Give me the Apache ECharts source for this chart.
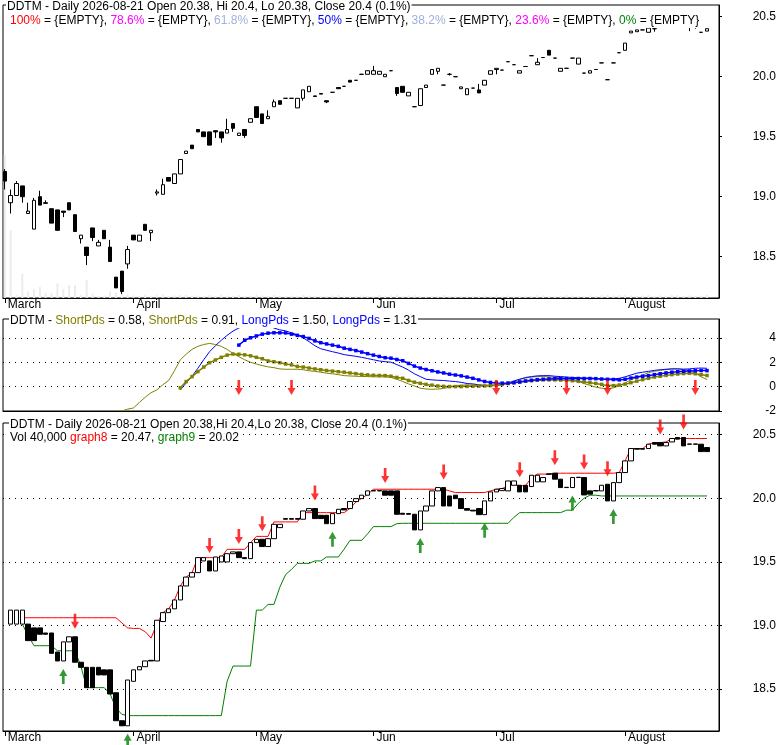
<!DOCTYPE html>
<html><head><meta charset="utf-8">
<script src="https://cdn.jsdelivr.net/npm/echarts@6/dist/echarts.min.js"></script>
<style>html,body{margin:0;padding:0;background:#fff}#c{width:780px;height:745px}</style>
</head><body><div id="c"></div>
<script>
const monthStarts = [0, 22, 43, 63, 84, 106];
const monthNames = ['March', 'April', 'May', 'Jun', 'Jul', 'August'];
const priceTicks = [18.5, 19.0, 19.5, 20.0, 20.5];
const oscTicks = [-2, 0, 2, 4];
const oscGrid = [0, 2, 4];

// top panel daily candles: [open, close, low, high]
const topCandles = [
[19.21,19.13,19.06,19.23],[18.95,19.01,18.86,19.06],[19.01,19.11,19.01,19.13],[19.09,19.00,18.95,19.09],[18.86,18.88,18.86,18.95],
[18.73,18.97,18.73,18.99],[19.00,18.93,18.93,19.05],[18.95,18.945,18.94,18.97],[18.90,18.78,18.78,18.90],[18.89,18.72,18.72,18.89],
[18.88,18.87,18.83,18.88],[18.95,18.89,18.89,18.95],[18.85,18.71,18.71,18.85],[18.65,18.68,18.61,18.68],[18.58,18.51,18.43,18.58],
[18.74,18.66,18.63,18.74],[18.59,18.62,18.59,18.64],[18.72,18.65,18.65,18.72],[18.58,18.46,18.46,18.64],[18.33,18.24,18.24,18.33],
[18.38,18.21,18.19,18.38],[18.44,18.56,18.40,18.59],[18.68,18.64,18.64,18.68],[18.63,18.68,18.63,18.68],[18.77,18.72,18.72,18.77],
[18.70,18.72,18.63,18.72],[19.03,19.04,19.01,19.06],[19.02,19.10,19.02,19.15],[19.16,19.13,19.13,19.16],[19.11,19.19,19.11,19.19],
[19.19,19.31,19.19,19.31],[19.36,19.38,19.36,19.38],[19.43,19.40,19.40,19.43],[19.56,19.54,19.54,19.56],[19.54,19.50,19.50,19.54],
[19.54,19.43,19.43,19.54],[19.55,19.54,19.49,19.55],[19.54,19.49,19.45,19.54],[19.53,19.56,19.53,19.65],[19.61,19.57,19.54,19.61],
[19.51,19.53,19.51,19.53],[19.56,19.51,19.49,19.56],[19.62,19.65,19.62,19.65],[19.75,19.66,19.66,19.75],[19.69,19.61,19.61,19.69],
[19.65,19.67,19.65,19.72],[19.75,19.79,19.75,19.81],[19.80,19.77,19.77,19.80],[19.82,19.82,19.82,19.82],[19.82,19.82,19.82,19.82],
[19.74,19.82,19.74,19.82],[19.82,19.89,19.80,19.89],[19.875,19.92,19.875,19.92],[19.84,19.835,19.835,19.84],[19.86,19.855,19.855,19.86],
[19.80,19.79,19.78,19.80],[19.87,19.87,19.87,19.87],[19.91,19.90,19.90,19.91],[19.92,19.92,19.92,19.92],[19.97,19.955,19.955,19.97],
[19.97,19.97,19.97,19.97],[20.02,20.02,20.02,20.02],[20.02,20.05,20.02,20.05],[20.02,20.05,20.02,20.09],[20.02,20.045,20.02,20.045],
[20.00,20.02,20.00,20.02],[20.05,20.05,20.05,20.05],[19.91,19.86,19.84,19.91],[19.92,19.87,19.87,19.92],[19.84,19.87,19.84,19.87],
[19.75,19.75,19.75,19.75],[19.76,19.90,19.76,19.90],[19.91,19.93,19.91,19.93],[20.02,20.06,20.02,20.06],[20.045,20.07,20.02,20.07],
[19.93,19.93,19.93,19.93],[20.02,20.02,20.01,20.03],[20.00,20.00,20.00,20.00],[19.90,19.915,19.90,19.915],[19.85,19.90,19.85,19.90],
[19.905,19.905,19.905,19.905],[19.89,19.865,19.865,19.94],[19.93,19.97,19.93,19.97],[20.02,20.05,20.02,20.05],[20.06,20.07,20.02,20.07],
[20.055,20.055,20.055,20.055],[20.125,20.125,20.125,20.125],[20.10,20.10,20.10,20.10],[20.03,20.05,20.03,20.05],[20.085,20.085,20.085,20.085],
[20.175,20.175,20.175,20.175],[20.10,20.12,20.10,20.155],[20.16,20.16,20.16,20.16],[20.22,20.18,20.18,20.22],[20.155,20.155,20.155,20.155],
[20.045,20.07,20.045,20.07],[20.07,20.07,20.07,20.07],[20.155,20.155,20.155,20.155],[20.105,20.155,20.105,20.155],[20.03,20.03,20.03,20.03],
[20.03,20.05,20.03,20.05],[20.06,20.06,20.06,20.06],[20.115,20.115,20.115,20.115],[19.975,19.975,19.975,19.975],[20.115,20.115,20.115,20.115],
[20.20,20.20,20.20,20.20],[20.22,20.28,20.22,20.28],[20.365,20.38,20.365,20.38],[20.375,20.39,20.375,20.39],[20.39,20.39,20.39,20.39],
[20.37,20.405,20.37,20.405],[20.40,20.40,20.375,20.405],[20.41,20.43,20.41,20.44],[20.43,20.44,20.42,20.45],[20.44,20.46,20.44,20.47],
[20.46,20.43,20.42,20.47],[20.41,20.41,20.41,20.44],[20.41,20.41,20.38,20.41],[20.41,20.41,20.40,20.41],[20.37,20.37,20.37,20.37],
[20.38,20.40,20.38,20.40]
];

const volume = [
1950000,930000,40000,330000,90000,120000,150000,70000,65000,200000,
120000,175000,175000,40000,245000,60000,30000,35000,90000,75000,
65000,45000,35000,30000,45000,25000,40000,50000,30000,35000,
45000,40000,30000,35000,25000,40000,30000,45000,35000,30000,
40000,25000,30000,45000,35000,30000,40000,30000,25000,35000,
30000,40000,35000,30000,25000,30000,35000,40000,30000,25000,
30000,35000,30000,25000,40000,30000,35000,45000,30000,35000,
40000,30000,25000,35000,30000,40000,30000,25000,30000,35000,
30000,25000,35000,30000,40000,30000,35000,25000,30000,35000,
30000,40000,35000,30000,25000,30000,40000,35000,30000,25000,
35000,30000,40000,45000,35000,40000,45000,35000,30000,35000,
40000,30000,35000,30000,40000,35000,30000,35000,30000,35000,
40000
];

// bottom panel boxes: [open, close]
const boxRows = [
null,[19.01,19.12],[19.01,19.12],[19.01,19.12],[19.01,18.88],[18.98,18.88],[18.98,18.93],[18.94,18.93],[18.94,18.78],[18.79,18.72],
[18.72,18.87],[18.87,18.91],[18.91,18.71],[18.71,18.67],[18.67,18.51],[18.67,18.51],[18.67,18.61],[18.65,18.61],[18.65,18.46],[18.47,18.25],
[18.25,18.21],[18.21,18.57],[18.56,18.65],[18.65,18.675],[18.675,18.72],[18.725,18.72],[18.72,19.04],[19.03,19.10],[19.10,19.13],[19.13,19.20],
[19.20,19.31],[19.31,19.38],[19.38,19.415],[19.415,19.533],[19.507,19.533],[19.507,19.428],[19.428,19.538],[19.499,19.546],[19.499,19.564],[19.564,19.578],
[19.578,19.533],[19.533,19.525],[19.525,19.651],[19.651,19.677],[19.677,19.62],[19.62,19.682],[19.682,19.795],[19.769,19.795],[19.84,19.835],[19.84,19.835],
[19.84,19.835],[19.835,19.90],[19.90,19.919],[19.919,19.84],[19.866,19.84],[19.866,19.80],[19.80,19.879],[19.879,19.913],[19.919,19.908],[19.919,19.974],
[19.974,19.997],[19.997,20.024],[20.024,20.058],[20.06,20.058],[20.06,20.058],[20.058,20.024],[20.058,20.024],[20.058,19.874],[19.882,19.874],[19.88,19.874],
[19.874,19.751],[19.751,19.90],[19.90,19.939],[19.939,20.058],[20.058,20.084],[20.084,19.939],[20.018,19.939],[20.024,19.997],[19.997,19.919],[19.919,19.906],
[19.906,19.90],[19.919,19.871],[19.871,19.979],[19.979,20.05],[20.05,20.071],[20.06,20.076],[20.058,20.136],[20.102,20.136],[20.102,20.05],[20.102,20.05],
[20.092,20.181],[20.129,20.181],[20.129,20.163],[20.192,20.189],[20.197,20.15],[20.15,20.084],[20.086,20.084],[20.084,20.163],[20.165,20.163],[20.163,20.026],
[20.058,20.032],[20.06,20.058],[20.058,20.102],[20.11,19.979],[19.979,20.123],[20.123,20.202],[20.202,20.294],[20.294,20.391],[20.391,20.386],[20.391,20.386],
[20.391,20.425],[20.438,20.425],[20.438,20.412],[20.412,20.438],[20.443,20.47],[20.478,20.465],[20.478,20.412],[20.427,20.425],[20.427,20.425],[20.425,20.367],
[20.399,20.367]
];

const graph8 = [
null,null,null,19.06,19.06,19.06,19.06,19.06,19.06,19.06,
19.06,19.06,19.06,19.06,19.06,19.06,19.06,19.06,19.06,19.06,
19.02,18.98,18.976,18.976,18.95,18.90,19.01,19.10,19.13,19.20,
19.31,19.38,19.415,19.533,19.533,19.533,19.533,19.533,19.598,19.598,
19.598,19.598,19.65,19.70,19.70,19.70,19.814,19.814,19.814,19.814,
19.814,19.887,19.887,19.887,19.887,19.887,19.887,19.887,19.887,19.92,
19.97,20.0,20.03,20.071,20.071,20.071,20.071,20.071,20.071,20.071,
20.071,20.071,20.071,20.071,20.071,20.071,20.058,20.045,20.045,20.045,
20.045,20.045,20.045,20.058,20.071,20.076,20.10,20.11,20.097,20.10,
20.16,20.19,20.19,20.19,20.197,20.197,20.197,20.197,20.197,20.197,
20.197,20.197,20.197,20.197,20.197,20.202,20.294,20.391,20.391,20.391,
20.425,20.438,20.438,20.443,20.47,20.47,20.47,20.47,20.47,20.47,
20.47
];

const graph9 = [
null,null,null,19.01,18.92,18.84,18.84,18.84,18.84,18.80,
18.80,18.80,18.80,18.68,18.51,18.51,18.51,18.51,18.46,18.35,
18.30,18.29,18.29,18.29,18.29,18.29,18.29,18.29,18.29,18.29,
18.29,18.29,18.29,18.29,18.29,18.29,18.29,18.29,18.56,18.68,
18.68,18.68,18.68,19.12,19.12,19.165,19.165,19.30,19.40,19.44,
19.488,19.488,19.488,19.507,19.507,19.538,19.538,19.538,19.60,19.669,
19.669,19.669,19.72,19.777,19.777,19.777,19.777,19.80,19.803,19.803,
19.803,19.803,19.803,19.803,19.803,19.803,19.803,19.803,19.803,19.803,
19.803,19.803,19.803,19.803,19.803,19.803,19.803,19.85,19.887,19.887,
19.887,19.887,19.887,19.887,19.887,19.887,19.906,19.906,19.96,20.00,
20.024,20.024,20.018,20.018,20.018,20.018,20.018,20.018,20.018,20.018,
20.018,20.018,20.018,20.018,20.018,20.018,20.018,20.018,20.018,20.018,
20.018
];

const shortThin = [
null,null,null,null,null,null,null,null,null,null,
null,null,null,null,null,null,null,null,null,null,
-2.0,-1.85,-1.75,-1.3,-0.87,-0.5,-0.27,0.15,0.5,1.3,
2.2,2.65,3.05,3.3,3.45,3.54,3.45,3.3,3.05,2.72,
2.45,2.2,2.0,1.85,1.72,1.62,1.55,1.45,1.42,1.42,
1.42,1.38,1.3,1.25,1.18,1.1,1.05,0.98,0.9,0.87,
0.85,0.83,0.82,0.8,0.8,0.8,0.75,0.6,0.42,0.22,
0.05,-0.13,-0.2,-0.22,-0.2,-0.15,-0.05,0.08,0.12,0.13,
0.12,0.12,0.12,0.13,0.14,0.2,0.3,0.45,0.6,0.7,
0.78,0.82,0.82,0.8,0.76,0.72,0.65,0.6,0.45,0.25,
0.1,-0.05,-0.13,-0.18,-0.1,0.05,0.3,0.55,0.75,0.95,
1.15,1.25,1.33,1.4,1.45,1.45,1.4,1.3,1.1,0.8,
0.58
];

const shortMark = [
null,null,null,null,null,null,null,null,null,null,
null,null,null,null,null,null,null,null,null,null,
null,null,null,null,null,null,null,null,null,null,
-0.1,0.41,0.82,1.23,1.6,1.96,2.18,2.4,2.58,2.67,
2.65,2.6,2.52,2.4,2.28,2.1,2.04,1.96,1.85,1.78,
1.65,1.6,1.52,1.45,1.38,1.32,1.27,1.22,1.18,1.12,
1.06,1.0,0.96,0.93,0.91,0.9,0.85,0.75,0.68,0.5,
0.36,0.27,0.18,0.12,0.05,0.02,0.0,0.0,0.0,0.02,
0.03,0.04,0.05,0.08,0.12,0.17,0.25,0.33,0.38,0.44,
0.48,0.52,0.55,0.55,0.55,0.54,0.52,0.48,0.43,0.38,
0.32,0.26,0.18,0.08,0.08,0.13,0.2,0.32,0.45,0.57,
0.68,0.78,0.85,0.92,0.98,1.03,1.07,1.09,1.05,0.98,
0.91
];

const longThin = [
null,null,null,null,null,null,null,null,null,null,
null,null,null,null,null,null,null,null,null,null,
null,null,null,null,null,null,null,null,null,null,
-0.27,0.3,0.85,1.5,2.2,2.86,3.35,3.8,4.2,4.55,
4.8,5.0,5.15,5.2,5.15,5.0,4.8,4.65,4.57,4.4,
4.25,4.0,3.68,3.35,3.1,2.98,2.86,2.75,2.62,2.55,
2.48,2.4,2.3,2.2,2.1,2.04,2.0,1.8,1.6,1.35,
1.05,0.82,0.6,0.55,0.52,0.5,0.45,0.41,0.35,0.25,
0.22,0.15,0.08,0.06,0.1,0.17,0.28,0.45,0.6,0.75,
0.82,0.88,0.9,0.9,0.85,0.82,0.78,0.75,0.72,0.7,
0.7,0.68,0.62,0.6,0.63,0.68,0.8,0.95,1.1,1.18,
1.25,1.33,1.38,1.42,1.45,1.45,1.43,1.45,1.5,1.52,
1.5
];

const longMark = [
null,null,null,null,null,null,null,null,null,null,
null,null,null,null,null,null,null,null,null,null,
null,null,null,null,null,null,null,null,null,null,
null,null,null,null,null,null,null,null,null,null,
3.4,3.8,4.0,4.15,4.3,4.38,4.41,4.41,4.4,4.3,
4.2,4.1,3.95,3.75,3.6,3.5,3.4,3.3,3.15,3.05,
2.95,2.83,2.7,2.58,2.47,2.37,2.33,2.22,2.12,1.9,
1.68,1.52,1.4,1.3,1.2,1.12,1.02,0.95,0.88,0.78,
0.68,0.55,0.42,0.34,0.3,0.28,0.29,0.32,0.38,0.46,
0.52,0.57,0.6,0.63,0.65,0.66,0.66,0.66,0.66,0.66,
0.66,0.65,0.62,0.6,0.58,0.55,0.6,0.7,0.78,0.85,
0.9,0.98,1.05,1.12,1.18,1.22,1.25,1.28,1.3,1.32,
1.31
];

const sellIdx = [12, 35, 40, 44, 53, 65, 75, 88, 94, 99, 103, 112, 116];
const buyIdx = [10, 21, 56, 71, 82, 97, 104];
const oscSellIdx = [40, 49, 84, 96, 103, 118];

const FONT = '"Liberation Sans", Arial, sans-serif';
const DOWN = 'path://M3,0 H6 V8 H9 L4.5,15 L0,8 H3 Z';
const UP = 'path://M4.5,0 L9,7 H6 V15 H3 V7 H0 Z';

const xy = arr => arr.map((v, i) => v == null ? null : [i, v]).filter(Boolean);
const topData = topCandles.map((r, i) => [i, r[0], r[1], r[2], r[3]]);
const boxData = boxRows.map((r, i) => r == null ? null : [i, r[0], r[1], Math.min(r[0], r[1]), Math.max(r[0], r[1])]).filter(Boolean);
const volData = volume.map((v, i) => [i, v]);

const gridLines = (vals) => ({
  silent: true, symbol: ['none', 'none'], label: {show: false}, animation: false,
  lineStyle: {color: '#000', width: 1, type: [1, 5]},
  emphasis: {disabled: true},
  data: vals.map(v => ({yAxis: v}))
});

const XMIN = -0.3, XMAX = 122.05;
function xAxis(g, labels) {
  return {
    type: 'value', gridIndex: g, min: XMIN, max: XMAX,
    axisLine: {show: true, onZero: false, lineStyle: {color: '#000', width: 1}},
    splitLine: {show: false},
    axisTick: labels ? {show: true, customValues: monthStarts, length: 5, lineStyle: {color: '#000'}} : {show: false},
    axisLabel: labels ? {
      show: true, customValues: monthStarts, align: 'left', margin: 1, padding: [0, 0, 0, 3],
      color: '#000', fontSize: 12, fontFamily: FONT,
      formatter: v => monthNames[monthStarts.indexOf(Math.round(v))]
    } : {show: false}
  };
}
function yAxis(g, min, max, ticks, fmt) {
  return {
    type: 'value', gridIndex: g, position: 'right', min: min, max: max,
    axisLine: {show: true, onZero: false, lineStyle: {color: '#000', width: 1}},
    splitLine: {show: false},
    axisTick: {show: true, customValues: ticks, length: 3, lineStyle: {color: '#000'}},
    axisLabel: {show: true, customValues: ticks, align: 'right', margin: 57, color: '#000',
      fontSize: 12, fontFamily: FONT, formatter: fmt}
  };
}
const candleStyle = {color: '#fff', color0: '#000', borderColor: '#000', borderColor0: '#000', borderColorDoji: '#000', borderWidth: 1};
const ts = {fontSize: 12, fontWeight: 'normal', color: '#000', fontFamily: FONT, lineHeight: 13};
function mkTitle(text, left, top, rich) {
  return {text: text, left: left, top: top, padding: [0, 1, 1, 1], backgroundColor: '#fff', z: 10,
    textStyle: Object.assign({}, ts, {rich: rich || {}})};
}
const richCol = (c) => ({color: c, fontSize: 12, fontFamily: FONT, lineHeight: 13});

const option = {
  animation: false,
  backgroundColor: '#fff',
  title: [
    mkTitle('DDTM - Daily 2026-08-21 Open 20.38, Hi 20.4, Lo 20.38, Close 20.4 (0.1%)', 6, 0),
    mkTitle('{r|100%} = {EMPTY}, {m|78.6%} = {EMPTY}, {s|61.8%} = {EMPTY}, {b|50%} = {EMPTY}, {s|38.2%} = {EMPTY}, {m|23.6%} = {EMPTY}, {g|0%} = {EMPTY}', 9, 14,
      {r: richCol('#ff0000'), m: richCol('#ff00ff'), s: richCol('#9fb2dc'), b: richCol('#0000ff'), g: richCol('#008000')}),
    mkTitle('DDTM - {o|ShortPds} = 0.58, {o|ShortPds} = 0.91, {b|LongPds} = 1.50, {b|LongPds} = 1.31', 9, 314,
      {o: richCol('#808000'), b: richCol('#0000ff')}),
    mkTitle('DDTM - Daily 2026-08-21 Open 20.38,Hi 20.4,Lo 20.38, Close 20.4 (0.1%)', 9, 418),
    mkTitle('Vol 40,000 {r|graph8} = 20.47, {g|graph9} = 20.02', 9, 431,
      {r: richCol('#ff0000'), g: richCol('#008000')})
  ],
  grid: [
    {left: 3, top: 5, width: 716, height: 293, show: true, borderColor: '#000', borderWidth: 1, backgroundColor: 'transparent'},
    {left: 3, top: 319, width: 716, height: 92, show: true, borderColor: '#000', borderWidth: 1, backgroundColor: 'transparent'},
    {left: 3, top: 423, width: 716, height: 308, show: true, borderColor: '#000', borderWidth: 1, backgroundColor: 'transparent'}
  ],
  xAxis: [xAxis(0, true), xAxis(1, false), xAxis(2, true)],
  yAxis: [
    yAxis(0, 18.156, 20.5975, priceTicks, v => v.toFixed(1)),
    {type: 'value', gridIndex: 0, min: 0, max: 4000000, show: false, splitLine: {show: false}},
    yAxis(1, -2, 5.54, oscTicks, v => String(v)),
    yAxis(2, 18.169, 20.592, priceTicks, v => v.toFixed(1))
  ],
  series: [
    {type: 'bar', xAxisIndex: 0, yAxisIndex: 1, data: volData, barWidth: 2, z: 1,
      itemStyle: {color: '#ececec'}, silent: true, markLine: gridLines(priceTicks)},
    {type: 'candlestick', xAxisIndex: 0, yAxisIndex: 0, data: topData, barWidth: 4, z: 3,
      dimensions: ['i', 'open', 'close', 'lowest', 'highest'], encode: {x: 0, y: [1, 2, 3, 4]},
      itemStyle: candleStyle, silent: true},
    {type: 'line', xAxisIndex: 1, yAxisIndex: 2, data: xy(shortThin), showSymbol: false, z: 2,
      lineStyle: {color: '#808000', width: 1}, silent: true, markLine: gridLines(oscGrid)},
    {type: 'line', xAxisIndex: 1, yAxisIndex: 2, data: xy(longThin), showSymbol: false, z: 2,
      lineStyle: {color: '#0000ff', width: 1}, silent: true},
    {type: 'line', xAxisIndex: 1, yAxisIndex: 2, data: xy(shortMark), symbol: 'rect', symbolSize: 3.5, showAllSymbol: true, z: 3,
      lineStyle: {color: '#808000', width: 1.5}, itemStyle: {color: '#808000'}, silent: true},
    {type: 'line', xAxisIndex: 1, yAxisIndex: 2, data: xy(longMark), symbol: 'rect', symbolSize: 3.5, showAllSymbol: true, z: 3,
      lineStyle: {color: '#0000ff', width: 1.5}, itemStyle: {color: '#0000ff'}, silent: true},
    {type: 'scatter', xAxisIndex: 1, yAxisIndex: 2, data: oscSellIdx.map(i => [i, 0]), symbol: DOWN,
      symbolSize: [8, 15], symbolOffset: [0, 1], itemStyle: {color: '#ff0000'}, z: 5, silent: true},
    {type: 'line', xAxisIndex: 2, yAxisIndex: 3, data: xy(graph8), showSymbol: false, z: 2,
      lineStyle: {color: '#ff0000', width: 1}, silent: true, markLine: gridLines(priceTicks)},
    {type: 'line', xAxisIndex: 2, yAxisIndex: 3, data: xy(graph9), showSymbol: false, z: 2,
      lineStyle: {color: '#008000', width: 1}, silent: true},
    {type: 'candlestick', xAxisIndex: 2, yAxisIndex: 3, data: boxData, barWidth: 5, z: 3,
      dimensions: ['i', 'open', 'close', 'lowest', 'highest'], encode: {x: 0, y: [1, 2, 3, 4]},
      itemStyle: candleStyle, silent: true},
    {type: 'scatter', xAxisIndex: 2, yAxisIndex: 3, data: sellIdx.map(i => [i, Math.max(boxRows[i][0], boxRows[i][1])]),
      symbol: DOWN, symbolSize: [8, 15], symbolOffset: [0, -15.5], itemStyle: {color: '#ff0000'}, z: 5, silent: true},
    {type: 'scatter', xAxisIndex: 2, yAxisIndex: 3, data: buyIdx.map(i => [i, Math.min(boxRows[i][0], boxRows[i][1])]),
      symbol: UP, symbolSize: [8, 15], symbolOffset: [0, 15.5], itemStyle: {color: '#008000'}, z: 5, silent: true}
  ]
};
const chart = echarts.init(document.getElementById('c'));
chart.setOption(option);
</script>
</body></html>
